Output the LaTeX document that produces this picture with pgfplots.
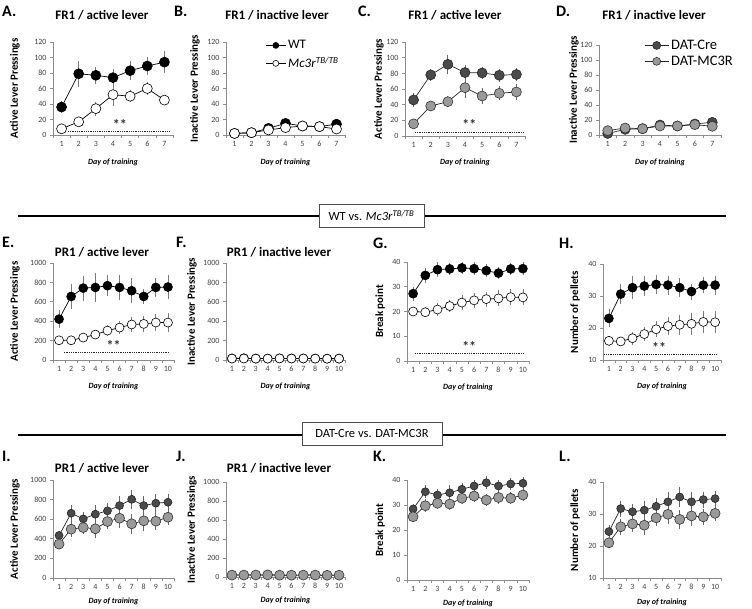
\documentclass[border=0pt]{standalone}
\usepackage{fontspec}
\setmainfont{Carlito}
\usepackage{pgfplots}
\pgfplotsset{compat=1.18}
\definecolor{axgray}{HTML}{8C8C8C}
\definecolor{tickgray}{HTML}{404040}
\definecolor{credark}{HTML}{4A4A4A}
\definecolor{mclight}{HTML}{9A9A9A}
\definecolor{errgray}{HTML}{7A7A7A}
\pgfplotsset{
  panel/.style={
    scale only axis, clip=false, enlargelimits=false,
    anchor=south west,
    axis x line*=bottom, axis y line*=left,
    axis line style={draw=axgray, line width=0.7pt},
    tick style={draw=axgray, line width=0.6pt},
    tick align=outside, major tick length=3pt, minor tick length=3pt,
    major x tick style={draw=none},
    ticklabel style={font=\fontsize{8}{9}\selectfont, text=tickgray},
    /pgf/number format/assume math mode=true,
    /pgf/number format/1000 sep={},
    xlabel={Day of training},
    xlabel style={font=\bfseries\itshape\fontsize{8}{9}\selectfont, at={(axis description cs:0.5,0)}, anchor=center, yshift=-26pt},
    ylabel style={font=\bfseries\fontsize{11}{13}\selectfont, anchor=center},
    legend image code/.code={\draw[mark repeat=2,mark phase=2,#1,mark size=3pt] plot coordinates {(0pt,0pt) (10pt,0pt) (20pt,0pt)};},
  },
  d7/.style={xmin=0.5,xmax=7.5,xtick={1,...,7},minor xtick={0.5,1.5,...,7.5}},
  d10/.style={xmin=0.5,xmax=10.5,xtick={1,...,10},minor xtick={0.5,1.5,...,10.5}},
  wt/.style={black, line width=0.7pt, mark=*, mark size=#1,
    mark options={solid, fill=black, draw=black, line width=0.6pt},
    error bars/.cd, y dir=both, y explicit, error mark=none,
    error bar style={errgray, line width=0.8pt, solid}},
  wt/.default=5pt,
  ko/.style={black, line width=0.7pt, mark=*, mark size=#1,
    mark options={solid, fill=white, draw=black, line width=0.6pt},
    error bars/.cd, y dir=both, y explicit, error mark=none,
    error bar style={errgray, line width=0.8pt, solid}},
  ko/.default=5pt,
  cre/.style={black!85, line width=0.7pt, mark=*, mark size=#1,
    mark options={solid, fill=credark, draw=black!85, line width=0.6pt},
    error bars/.cd, y dir=both, y explicit, error mark=none,
    error bar style={black!60, line width=0.8pt, solid}},
  cre/.default=5pt,
  mc/.style={black!85, line width=0.7pt, mark=*, mark size=#1,
    mark options={solid, fill=mclight, draw=black!80, line width=0.6pt},
    error bars/.cd, y dir=both, y explicit, error mark=none,
    error bar style={black!60, line width=0.8pt, solid}},
  mc/.default=5pt,
  sig/.style={black!85, densely dotted, line width=0.8pt, forget plot},
}
\tikzset{
  letter/.style={anchor=west, font=\bfseries\fontsize{16}{18}\selectfont, inner sep=0pt},
  ptitle/.style={font=\bfseries\fontsize{13}{15}\selectfont, inner sep=0pt},
  stars/.style={font=\bfseries\fontsize{14}{15}\selectfont, inner sep=0pt, anchor=base, text=black!80},
}
\begin{document}
\begin{tikzpicture}
\useasboundingbox (0pt,0pt) rectangle (752pt,609pt);

% ---------- separators ----------
\draw[black, line width=2pt] (18pt,393pt) -- (726pt,393pt);
\node[draw=black!70, fill=white, line width=0.8pt, minimum width=105pt, minimum height=23pt, inner sep=0pt, font=\fontsize{12.5}{14}\selectfont] at (371.5pt,393.5pt) {WT vs. \textit{Mc3r}\textsuperscript{\textit{TB/TB}}};
\draw[black, line width=2pt] (18pt,174pt) -- (726pt,174pt);
\node[draw=black!70, fill=white, line width=0.8pt, minimum width=140pt, minimum height=23pt, inner sep=0pt, font=\fontsize{12.5}{14}\selectfont] at (372pt,175.5pt) {DAT-Cre vs. DAT-MC3R};

% ---------- letters and titles ----------
\node[letter] at (2pt,598pt) {A.};
\node[letter] at (174pt,598pt) {B.};
\node[letter] at (358pt,598pt) {C.};
\node[letter] at (556pt,598pt) {D.};
\node[letter] at (2pt,367pt) {E.};
\node[letter] at (176pt,367pt) {F.};
\node[letter] at (373pt,366pt) {G.};
\node[letter] at (559pt,366pt) {H.};
\node[letter] at (2pt,153pt) {I.};
\node[letter] at (176pt,153pt) {J.};
\node[letter] at (373pt,153pt) {K.};
\node[letter] at (559pt,153pt) {L.};

\node[ptitle] at (102pt,593.5pt) {FR1 / active lever};
\node[ptitle] at (277pt,593.5pt) {FR1 / inactive lever};
\node[ptitle] at (455pt,593.5pt) {FR1 / active lever};
\node[ptitle] at (654pt,593.5pt) {FR1 / inactive lever};
\node[ptitle] at (102pt,357pt) {PR1 / active lever};
\node[ptitle] at (279pt,357pt) {PR1 / inactive lever};
\node[ptitle] at (102pt,141pt) {PR1 / active lever};
\node[ptitle] at (279pt,141pt) {PR1 / inactive lever};

% ---------- A ----------
\begin{axis}[panel, d7, at={(53pt,474pt)}, width=120pt, height=93pt,
  ymin=0, ymax=120, ytick={0,20,...,120}, ylabel={Active Lever Pressings},
  xlabel style={yshift=-1pt},
  ylabel style={at={(axis description cs:-0.317,0.5)}}]
\addplot[sig] coordinates {(1.38,4) (7.35,4)};
\addplot[wt] coordinates {(1,36) +- (0,8) (2,79) +- (0,17) (3,77) +- (0,11) (4,74) +- (0,11) (5,83) +- (0,12) (6,89) +- (0,11) (7,94) +- (0,14)};
\addplot[ko] coordinates {(1,8) +- (0,3) (2,17) +- (0,3) (3,34) +- (0,9) (4,52) +- (0,14) (5,50) +- (0,8) (6,60) +- (0,9) (7,45) +- (0,4)};
\node[stars] at (axis cs:4.4,6.5) {**};
\end{axis}

% ---------- B ----------
\begin{axis}[panel, d7, at={(226pt,474pt)}, width=119pt, height=93pt,
  ymin=0, ymax=120, ytick={0,20,...,120}, ylabel={Inactive Lever Pressings},
  xlabel style={yshift=-1pt},
  ylabel style={at={(axis description cs:-0.261,0.5)}},
  legend style={at={(axis description cs:0.33,1.04)}, anchor=north west, draw=none, fill=none,
    font=\fontsize{13}{15}\selectfont, row sep=3pt, inner sep=0pt},
  legend cell align=left]
\addplot[wt] coordinates {(1,2) +- (0,1) (2,3) +- (0,1) (3,8.6) +- (0,2) (4,15) +- (0,2) (5,11.6) +- (0,2) (6,10.8) +- (0,2) (7,14) +- (0,2)};
\addlegendentry{WT}
\addplot[ko] coordinates {(1,2) +- (0,1) (2,3) +- (0,1) (3,6.5) +- (0,2) (4,9.5) +- (0,2) (5,11.6) +- (0,2) (6,10.8) +- (0,2) (7,7.7) +- (0,2)};
\addlegendentry{\textit{Mc3r}\textsuperscript{\textit{TB/TB}}}
\end{axis}

% ---------- C ----------
\begin{axis}[panel, d7, at={(405pt,473pt)}, width=120pt, height=94pt,
  ymin=0, ymax=120, ytick={0,20,...,120}, ylabel={Active Lever Pressings},
  ylabel style={at={(axis description cs:-0.217,0.5)}}]
\addplot[sig] coordinates {(1.08,5) (7.46,5)};
\addplot[cre] coordinates {(1,46) +- (0,9) (2,78) +- (0,8) (3,91.5) +- (0,12) (4,81) +- (0,10) (5,80.5) +- (0,8) (6,77.5) +- (0,8) (7,78.5) +- (0,8)};
\addplot[mc] coordinates {(1,15.5) +- (0,3) (2,38.3) +- (0,7) (3,43.8) +- (0,7) (4,61.7) +- (0,13) (5,51) +- (0,10) (6,54.5) +- (0,9) (7,56.2) +- (0,10)};
\node[stars] at (axis cs:4.25,7.7) {**};
\end{axis}

% ---------- D ----------
\begin{axis}[panel, d7, at={(599pt,474pt)}, width=122pt, height=90pt,
  ymin=0, ymax=120, ytick={0,20,...,120}, ylabel={Inactive Lever Pressings},
  xlabel style={yshift=-1pt},
  ylabel style={at={(axis description cs:-0.205,0.5)}},
  legend image code/.code={\draw[mark repeat=2,mark phase=2,#1,mark size=4pt] plot coordinates {(0pt,0pt) (12pt,0pt) (24pt,0pt)};},
  legend style={at={(axis description cs:0.37,1.08)}, anchor=north west, draw=none, fill=none,
    font=\fontsize{14.5}{16}\selectfont, row sep=1pt, inner sep=0pt},
  legend cell align=left]
\addplot[cre] coordinates {(1,2) +- (0,1) (2,7.5) +- (0,2) (3,8.4) +- (0,1.5) (4,13.3) +- (0,2) (5,12) +- (0,2) (6,14.7) +- (0,2) (7,16.9) +- (0,2)};
\addlegendentry{DAT-Cre}
\addplot[mc] coordinates {(1,5.8) +- (0,2) (2,9.3) +- (0,2) (3,8.4) +- (0,1.5) (4,12) +- (0,2) (5,12) +- (0,2) (6,13.8) +- (0,2) (7,11.6) +- (0,2)};
\addlegendentry{DAT-MC3R}
\end{axis}

% ---------- E ----------
\begin{axis}[panel, d10, at={(53pt,249pt)}, width=121pt, height=97pt,
  ymin=0, ymax=1000, ytick={0,200,...,1000}, ylabel={Active Lever Pressings},
  ylabel style={at={(axis description cs:-0.314,0.5)}}]
\addplot[sig] coordinates {(1.4,82) (10.1,82)};
\addplot[wt=4.5pt] coordinates {(1,421) +- (0,90) (2,655) +- (0,130) (3,741) +- (0,130) (4,748) +- (0,150) (5,766) +- (0,110) (6,748) +- (0,130) (7,714) +- (0,130) (8,655) +- (0,80) (9,748) +- (0,100) (10,752) +- (0,120)};
\addplot[ko=4.5pt] coordinates {(1,203) +- (0,30) (2,203) +- (0,30) (3,231) +- (0,40) (4,262) +- (0,50) (5,303) +- (0,60) (6,334) +- (0,70) (7,366) +- (0,80) (8,372) +- (0,80) (9,386) +- (0,90) (10,386) +- (0,100)};
\node[stars] at (axis cs:5.5,103) {**};
\end{axis}

% ---------- F ----------
\begin{axis}[panel, d10, at={(226pt,249pt)}, width=119pt, height=97pt,
  ymin=0, ymax=1000, ytick={0,200,...,1000}, ylabel={Inactive Lever Pressings},
  ylabel style={at={(axis description cs:-0.286,0.5)}}]
\addplot[wt=4.5pt] coordinates {(1,16) +- (0,4) (2,18) +- (0,4) (3,15) +- (0,4) (4,15) +- (0,4) (5,17) +- (0,4) (6,16) +- (0,4) (7,16) +- (0,4) (8,15) +- (0,4) (9,14) +- (0,4) (10,15) +- (0,4)};
\addplot[ko=4.5pt] coordinates {(1,15) +- (0,4) (2,15) +- (0,4) (3,14) +- (0,4) (4,14) +- (0,4) (5,16) +- (0,4) (6,15) +- (0,4) (7,15) +- (0,4) (8,14) +- (0,4) (9,13) +- (0,4) (10,14) +- (0,4)};
\end{axis}

% ---------- G ----------
\begin{axis}[panel, d10, at={(407pt,248pt)}, width=122pt, height=99pt,
  ymin=0, ymax=40, ytick={0,10,...,40}, ylabel={Break point},
  ylabel style={at={(axis description cs:-0.221,0.5)}}]
\addplot[sig] coordinates {(1.15,3.2) (10.1,3.2)};
\addplot[wt=4.5pt] coordinates {(1,27.2) +- (0,2.8) (2,34.6) +- (0,3) (3,36.9) +- (0,3) (4,37.2) +- (0,2.5) (5,37.6) +- (0,2.5) (6,37.3) +- (0,2.5) (7,36.5) +- (0,2.5) (8,35.5) +- (0,2.5) (9,37.2) +- (0,2.5) (10,37.3) +- (0,2.5)};
\addplot[ko=4.5pt] coordinates {(1,20) +- (0,2) (2,19.7) +- (0,2) (3,20.8) +- (0,2.5) (4,22.2) +- (0,2.5) (5,23.6) +- (0,3) (6,24.5) +- (0,3) (7,25) +- (0,3) (8,25.3) +- (0,3.2) (9,25.8) +- (0,3.2) (10,25.7) +- (0,3.2)};
\node[stars] at (axis cs:5.6,4.0) {**};
\end{axis}

% ---------- H ----------
\begin{axis}[panel, d10, at={(603pt,249pt)}, width=118pt, height=96pt,
  ymin=10, ymax=40, ytick={10,20,30,40}, ylabel={Number of pellets},
  ylabel style={at={(axis description cs:-0.237,0.5)}}]
\addplot[sig] coordinates {(0.6,11.9) (10.2,11.9)};
\addplot[wt=4.5pt] coordinates {(1,23) +- (0,2.8) (2,30.6) +- (0,3) (3,32.6) +- (0,3.5) (4,33.1) +- (0,3) (5,33.6) +- (0,3) (6,33.4) +- (0,3) (7,32.6) +- (0,3) (8,31.4) +- (0,2.5) (9,33.4) +- (0,2.5) (10,33.4) +- (0,3)};
\addplot[ko=4.5pt] coordinates {(1,16) +- (0,1.5) (2,15.8) +- (0,1.5) (3,16.8) +- (0,2) (4,18.1) +- (0,2.2) (5,19.6) +- (0,2.5) (6,20.6) +- (0,2.7) (7,21) +- (0,3.2) (8,21.3) +- (0,3.5) (9,21.9) +- (0,3.5) (10,21.8) +- (0,3.5)};
\node[stars] at (axis cs:5.25,12.2) {**};
\end{axis}

% ---------- I ----------
\begin{axis}[panel, d10, at={(53pt,31pt)}, width=121pt, height=98pt,
  ymin=0, ymax=1000, ytick={0,200,...,1000}, ylabel={Active Lever Pressings},
  xlabel style={yshift=3pt},
  ylabel style={at={(axis description cs:-0.314,0.5)}}]
\addplot[cre=4pt] coordinates {(1,434) +- (0,50) (2,661) +- (0,80) (3,603) +- (0,70) (4,651) +- (0,90) (5,685) +- (0,80) (6,739) +- (0,100) (7,803) +- (0,100) (8,739) +- (0,100) (9,763) +- (0,90) (10,773) +- (0,80)};
\addplot[mc=5pt] coordinates {(1,346) +- (0,50) (2,498) +- (0,80) (3,515) +- (0,70) (4,502) +- (0,90) (5,576) +- (0,80) (6,610) +- (0,100) (7,553) +- (0,100) (8,583) +- (0,100) (9,580) +- (0,90) (10,620) +- (0,80)};
\end{axis}

% ---------- J ----------
\begin{axis}[panel, d10, at={(226pt,32pt)}, width=119pt, height=95pt,
  ymin=0, ymax=1000, ytick={0,200,...,1000}, ylabel={Inactive Lever Pressings},
  xlabel style={yshift=3pt},
  ylabel style={at={(axis description cs:-0.286,0.5)}}]
\addplot[cre=4pt] coordinates {(1,20) +- (0,4) (2,20) +- (0,4) (3,21) +- (0,4) (4,22) +- (0,4) (5,19) +- (0,4) (6,19) +- (0,4) (7,20) +- (0,4) (8,20) +- (0,4) (9,18) +- (0,4) (10,19) +- (0,4)};
\addplot[mc=5pt] coordinates {(1,20) +- (0,4) (2,20) +- (0,4) (3,21) +- (0,4) (4,22) +- (0,4) (5,19) +- (0,4) (6,19) +- (0,4) (7,20) +- (0,4) (8,20) +- (0,4) (9,18) +- (0,4) (10,19) +- (0,4)};
\end{axis}

% ---------- K ----------
\begin{axis}[panel, d10, at={(407pt,29pt)}, width=122pt, height=100pt,
  ymin=0, ymax=40, ytick={0,10,...,40}, ylabel={Break point},
  xlabel style={yshift=3pt},
  ylabel style={at={(axis description cs:-0.221,0.5)}}]
\addplot[cre=4pt] coordinates {(1,28.4) +- (0,2) (2,35.3) +- (0,2.5) (3,34) +- (0,2.5) (4,34.9) +- (0,3) (5,36.3) +- (0,2.5) (6,37.6) +- (0,2.5) (7,38.9) +- (0,2.5) (8,37.6) +- (0,2.5) (9,38.4) +- (0,2.5) (10,38.7) +- (0,2.5)};
\addplot[mc=5pt] coordinates {(1,25.3) +- (0,2) (2,29.7) +- (0,2.5) (3,30.7) +- (0,2.5) (4,30.4) +- (0,2.5) (5,32.7) +- (0,2.5) (6,33.6) +- (0,2.5) (7,32) +- (0,2.5) (8,33) +- (0,2.5) (9,32.7) +- (0,2.5) (10,34) +- (0,2.5)};
\end{axis}

% ---------- L ----------
\begin{axis}[panel, d10, at={(603pt,31pt)}, width=118pt, height=96pt,
  ymin=10, ymax=40, ytick={10,20,30,40}, ylabel={Number of pellets},
  xlabel style={yshift=2pt},
  ylabel style={at={(axis description cs:-0.237,0.5)}}]
\addplot[cre=4pt] coordinates {(1,24.5) +- (0,2) (2,31.7) +- (0,2.5) (3,30.7) +- (0,2.5) (4,31.2) +- (0,3) (5,32.4) +- (0,2.5) (6,33.8) +- (0,3) (7,35.3) +- (0,3) (8,33.8) +- (0,3) (9,34.5) +- (0,2.5) (10,34.8) +- (0,2.5)};
\addplot[mc=5pt] coordinates {(1,21) +- (0,1.5) (2,26) +- (0,2.5) (3,26.9) +- (0,2.5) (4,26.5) +- (0,3) (5,28.8) +- (0,2.5) (6,29.9) +- (0,3) (7,28.3) +- (0,3) (8,29.4) +- (0,3) (9,29.1) +- (0,2.5) (10,30.2) +- (0,2.5)};
\end{axis}
\end{tikzpicture}
\end{document}
